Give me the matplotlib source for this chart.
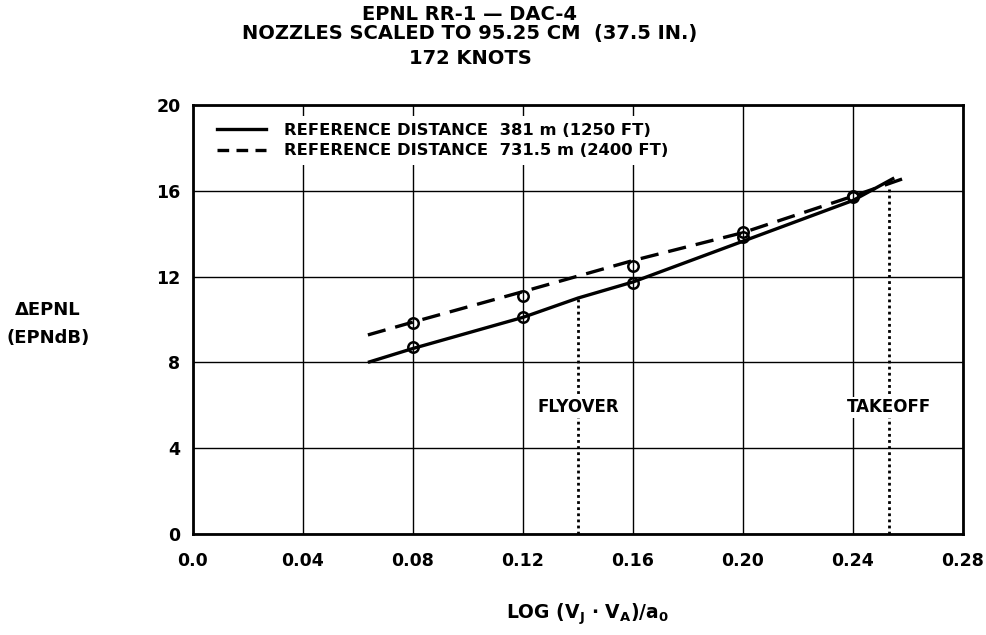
import matplotlib
matplotlib.use("Agg")
import matplotlib.pyplot as plt
from matplotlib.lines import Line2D

plt.rcParams['font.family'] = ['DejaVu Sans']
plt.rcParams['font.weight'] = 'bold'
plt.rcParams['mathtext.fontset'] = 'custom'
plt.rcParams['mathtext.rm'] = 'DejaVu Sans:bold'
plt.rcParams['mathtext.it'] = 'DejaVu Sans:bold'
plt.rcParams['mathtext.bf'] = 'DejaVu Sans:bold'

# ---- data ----
title_lines = ["EPNL RR-1 \u2014 DAC-4", "NOZZLES SCALED TO 95.25 CM  (37.5 IN.)", "172 KNOTS"]
legend_labels = ["REFERENCE DISTANCE  381 m (1250 FT)",
                 "REFERENCE DISTANCE  731.5 m (2400 FT)"]

# measured points
pts_x = [0.08, 0.12, 0.16, 0.20, 0.24]
pts_381 = [8.7, 10.1, 11.7, 13.85, 15.7]
pts_731 = [9.85, 11.1, 12.5, 14.1, 15.75]

# faired curves
curve381_x = [0.0636, 0.08, 0.12, 0.14, 0.16, 0.20, 0.24, 0.255]
curve381_y = [8.0, 8.65, 10.1, 11.0, 11.75, 13.65, 15.55, 16.6]
curve731_x = [0.0636, 0.08, 0.12, 0.16, 0.20, 0.24, 0.259]
curve731_y = [9.28, 9.88, 11.3, 12.75, 14.05, 15.75, 16.6]

# operating conditions
cond_names = ["FLYOVER", "TAKEOFF"]
cond_x = [0.140, 0.253]
cond_top = [11.0, 16.2]
cond_label_y = 5.9

x_ticks = [0.0, 0.04, 0.08, 0.12, 0.16, 0.20, 0.24, 0.28]
x_ticklabels = ["0.0", "0.04", "0.08", "0.12", "0.16", "0.20", "0.24", "0.28"]
y_ticks = [0, 4, 8, 12, 16, 20]

# ---- figure ----
fig = plt.figure(figsize=(9.86, 6.35), dpi=100)
ax = fig.add_axes([193/986, 1-534/635, (963-193)/986, (534-105)/635])

ax.set_xlim(0, 0.28)
ax.set_ylim(0, 20)
ax.set_xticks(x_ticks)
ax.set_xticklabels(x_ticklabels)
ax.set_yticks(y_ticks)
ax.tick_params(axis='both', length=0, labelsize=12.5)
ax.tick_params(axis='x', pad=13)
ax.tick_params(axis='y', pad=9)
for lab in ax.get_xticklabels() + ax.get_yticklabels():
    lab.set_fontweight('bold')
ax.grid(True, color='black', linewidth=1.0)
ax.set_axisbelow(True)
for s in ax.spines.values():
    s.set_linewidth(2.0)
    s.set_color('black')

ax.plot(curve381_x, curve381_y, color='black', lw=2.4, solid_capstyle='butt', zorder=3)
ax.plot(curve731_x, curve731_y, color='black', lw=2.4, dashes=(5.5, 3), zorder=3)
ax.plot(pts_x, pts_381, 'o', ms=7.5, mfc='none', mec='black', mew=1.8, zorder=4)
ax.plot(pts_x, pts_731, 'o', ms=7.5, mfc='none', mec='black', mew=1.8, zorder=4)

for name, cx, ct in zip(cond_names, cond_x, cond_top):
    ax.plot([cx, cx], [0, ct], color='black', lw=2.0, linestyle=(0, (1, 1.2)), zorder=3)
    ax.text(cx, cond_label_y, name, ha='center', va='center', fontsize=12,
            fontweight='bold', zorder=5,
            bbox=dict(facecolor='white', edgecolor='none', pad=1))

handles = [Line2D([], [], color='black', lw=2.4),
           Line2D([], [], color='black', lw=2.4, dashes=(3.5, 2.2))]
leg = ax.legend(handles, legend_labels, loc='upper left', bbox_to_anchor=(0.01, 0.997),
                frameon=True, fancybox=False, framealpha=1, edgecolor='none',
                facecolor='white', prop={'size': 11.8, 'weight': 'bold'},
                handlelength=3.0, handletextpad=1.1, labelspacing=0.35,
                borderpad=0.4, borderaxespad=0.6)

cx_title = 470/986
for txt, yp in zip(title_lines, [14, 34, 58]):
    fig.text(cx_title, 1-yp/635, txt, ha='center', va='center', fontsize=14,
             fontweight='bold')

fig.text(48/986, 1-310/635, "\u0394EPNL", ha='center', va='center', fontsize=13,
         fontweight='bold')
fig.text(48/986, 1-338/635, "(EPNdB)", ha='center', va='center', fontsize=13,
         fontweight='bold')

fig.text(587/986, 1-614/635, r"LOG (V$_{\rm J}$ $\cdot$ V$_{\rm A}$)/a$_{\rm 0}$",
         ha='center', va='center', fontsize=13.5, fontweight='bold')

fig.savefig("out.png", dpi=100)
